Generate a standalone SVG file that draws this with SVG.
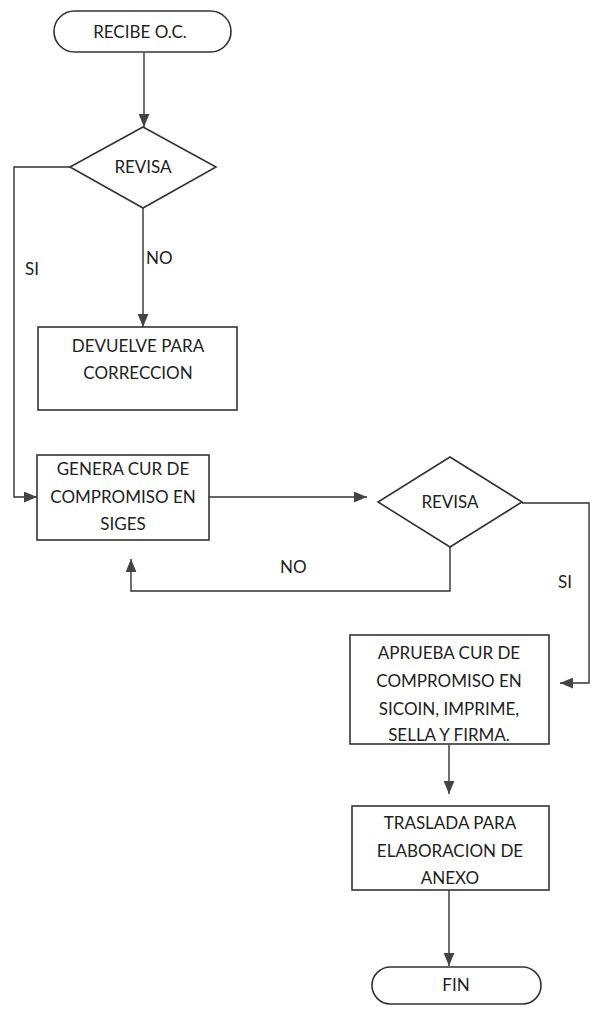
<svg xmlns="http://www.w3.org/2000/svg" width="594" height="1015" viewBox="0 0 594 1015">
<style>
.shape{fill:#fff;stroke:#333;stroke-width:1.6}
.conn{fill:none;stroke:#333;stroke-width:1.4}
text{font-family:Lato,"Open Sans","Liberation Sans",sans-serif;font-size:17px;fill:#222;text-anchor:middle}
.lbl{text-anchor:start}
</style>
<defs>
<marker id="ah" viewBox="0 0 12 10" refX="12" refY="5" markerWidth="13" markerHeight="11" markerUnits="userSpaceOnUse" orient="auto">
<path d="M0,0 L12,5 L0,10 Z" fill="#444"/>
</marker>
</defs>
<rect width="594" height="1015" fill="#fff"/>
<g id="connectors">
<path class="conn" d="M144,53 V127" marker-end="url(#ah)"/>
<path class="conn" d="M143,208 V327" marker-end="url(#ah)"/>
<path class="conn" d="M70,167 H14 V497 H37" marker-end="url(#ah)"/>
<path class="conn" d="M209,497 H367" marker-end="url(#ah)"/>
<path class="conn" d="M522,503 H589 V683 H560" marker-end="url(#ah)"/>
<path class="conn" d="M450,547 V591 H131 V559" marker-end="url(#ah)"/>
<path class="conn" d="M449,745 V794" marker-end="url(#ah)"/>
<path class="conn" d="M449,890 V966" marker-end="url(#ah)"/>
<text class="lbl" x="146" y="264">NO</text>
<text class="lbl" x="25" y="275">SI</text>
<text class="lbl" x="280" y="573">NO</text>
<text class="lbl" x="558" y="588">SI</text>
</g>
<g id="start">
<rect class="shape" x="54" y="11" width="177" height="41" rx="20.5"/>
<text x="140" y="38">RECIBE O.C.</text>
</g>
<g id="revisa1">
<polygon class="shape" points="143,127 216,167 143,208 70,167"/>
<text x="143" y="173">REVISA</text>
</g>
<g id="devuelve">
<rect class="shape" x="38" y="327" width="199" height="83"/>
<text x="138" y="352">DEVUELVE PARA</text>
<text x="138" y="379">CORRECCION</text>
</g>
<g id="genera">
<rect class="shape" x="37" y="455" width="172" height="85"/>
<text x="123" y="475">GENERA CUR DE</text>
<text x="123" y="503">COMPROMISO EN</text>
<text x="123" y="530">SIGES</text>
</g>
<g id="revisa2">
<polygon class="shape" points="450,457 522,502 450,547 378,502"/>
<text x="450" y="508">REVISA</text>
</g>
<g id="aprueba">
<rect class="shape" x="350" y="635" width="199" height="109"/>
<text x="449" y="659">APRUEBA CUR DE</text>
<text x="449" y="687">COMPROMISO EN</text>
<text x="449" y="715">SICOIN, IMPRIME,</text>
<text x="449" y="741">SELLA Y FIRMA.</text>
</g>
<g id="traslada">
<rect class="shape" x="352" y="806" width="197" height="84"/>
<text x="450" y="829">TRASLADA PARA</text>
<text x="450" y="857">ELABORACION DE</text>
<text x="450" y="884">ANEXO</text>
</g>
<g id="fin">
<rect class="shape" x="372" y="967" width="169" height="37" rx="18.5"/>
<text x="456" y="991">FIN</text>
</g>
</svg>
